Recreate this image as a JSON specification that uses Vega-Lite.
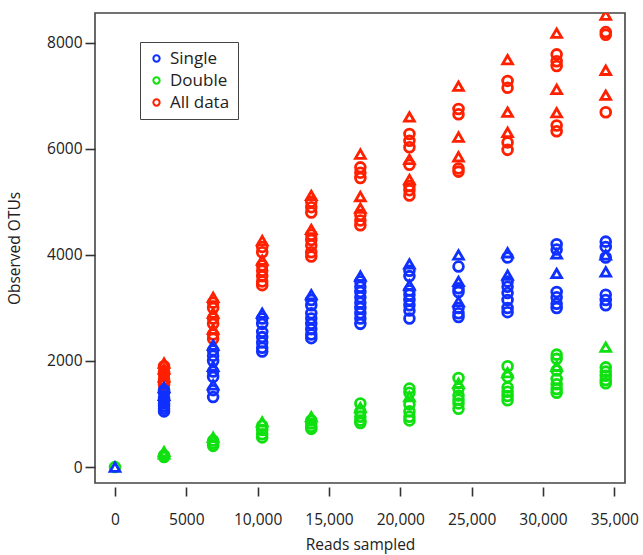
{
  "$schema": "https://vega.github.io/schema/vega-lite/v6.json",
  "autosize": "none",
  "width": 530,
  "height": 470,
  "padding": {"left": 95, "top": 13, "right": 18, "bottom": 72},
  "background": "white",
  "config": {
    "font": "Open Sans",
    "view": {"stroke": "#444", "strokeWidth": 1.6},
    "axis": {"grid": false, "domain": false, "tickColor": "#333", "tickWidth": 1.6, "labelColor": "#222", "titleColor": "#222", "labelFontSize": 15.5, "titleFontSize": 15.5, "titleFontWeight": "normal", "labelFont": "Open Sans", "titleFont": "Open Sans"}
  },
  "data": {"values": [
    {"reads": 3440, "otus": 1960, "series": "All data", "set": "B"},
    {"reads": 3440, "otus": 1900, "series": "All data", "set": "A"},
    {"reads": 3440, "otus": 1850, "series": "All data", "set": "B"},
    {"reads": 3440, "otus": 1800, "series": "All data", "set": "A"},
    {"reads": 3440, "otus": 1750, "series": "All data", "set": "A"},
    {"reads": 3440, "otus": 1700, "series": "All data", "set": "B"},
    {"reads": 3440, "otus": 1650, "series": "All data", "set": "A"},
    {"reads": 3440, "otus": 1600, "series": "All data", "set": "A"},
    {"reads": 3440, "otus": 1550, "series": "All data", "set": "A"},
    {"reads": 6880, "otus": 3200, "series": "All data", "set": "B"},
    {"reads": 6880, "otus": 3100, "series": "All data", "set": "A"},
    {"reads": 6880, "otus": 3000, "series": "All data", "set": "A"},
    {"reads": 6880, "otus": 2900, "series": "All data", "set": "B"},
    {"reads": 6880, "otus": 2800, "series": "All data", "set": "A"},
    {"reads": 6880, "otus": 2700, "series": "All data", "set": "A"},
    {"reads": 6880, "otus": 2600, "series": "All data", "set": "B"},
    {"reads": 6880, "otus": 2500, "series": "All data", "set": "A"},
    {"reads": 6880, "otus": 2420, "series": "All data", "set": "A"},
    {"reads": 10320, "otus": 4270, "series": "All data", "set": "B"},
    {"reads": 10320, "otus": 4150, "series": "All data", "set": "A"},
    {"reads": 10320, "otus": 4050, "series": "All data", "set": "A"},
    {"reads": 10320, "otus": 3900, "series": "All data", "set": "B"},
    {"reads": 10320, "otus": 3800, "series": "All data", "set": "A"},
    {"reads": 10320, "otus": 3700, "series": "All data", "set": "A"},
    {"reads": 10320, "otus": 3600, "series": "All data", "set": "A"},
    {"reads": 10320, "otus": 3500, "series": "All data", "set": "A"},
    {"reads": 10320, "otus": 3430, "series": "All data", "set": "A"},
    {"reads": 13760, "otus": 5120, "series": "All data", "set": "B"},
    {"reads": 13760, "otus": 5000, "series": "All data", "set": "A"},
    {"reads": 13760, "otus": 4900, "series": "All data", "set": "A"},
    {"reads": 13760, "otus": 4800, "series": "All data", "set": "A"},
    {"reads": 13760, "otus": 4480, "series": "All data", "set": "B"},
    {"reads": 13760, "otus": 4380, "series": "All data", "set": "A"},
    {"reads": 13760, "otus": 4280, "series": "All data", "set": "A"},
    {"reads": 13760, "otus": 4180, "series": "All data", "set": "A"},
    {"reads": 13760, "otus": 4050, "series": "All data", "set": "A"},
    {"reads": 13760, "otus": 3970, "series": "All data", "set": "A"},
    {"reads": 17200, "otus": 5900, "series": "All data", "set": "B"},
    {"reads": 17200, "otus": 5650, "series": "All data", "set": "A"},
    {"reads": 17200, "otus": 5550, "series": "All data", "set": "A"},
    {"reads": 17200, "otus": 5450, "series": "All data", "set": "A"},
    {"reads": 17200, "otus": 5100, "series": "All data", "set": "B"},
    {"reads": 17200, "otus": 4880, "series": "All data", "set": "B"},
    {"reads": 17200, "otus": 4750, "series": "All data", "set": "A"},
    {"reads": 17200, "otus": 4650, "series": "All data", "set": "A"},
    {"reads": 17200, "otus": 4560, "series": "All data", "set": "A"},
    {"reads": 20640, "otus": 6600, "series": "All data", "set": "B"},
    {"reads": 20640, "otus": 6280, "series": "All data", "set": "A"},
    {"reads": 20640, "otus": 6150, "series": "All data", "set": "A"},
    {"reads": 20640, "otus": 6030, "series": "All data", "set": "A"},
    {"reads": 20640, "otus": 5800, "series": "All data", "set": "B"},
    {"reads": 20640, "otus": 5700, "series": "All data", "set": "A"},
    {"reads": 20640, "otus": 5420, "series": "All data", "set": "B"},
    {"reads": 20640, "otus": 5300, "series": "All data", "set": "A"},
    {"reads": 20640, "otus": 5220, "series": "All data", "set": "A"},
    {"reads": 20640, "otus": 5120, "series": "All data", "set": "A"},
    {"reads": 24080, "otus": 7180, "series": "All data", "set": "B"},
    {"reads": 24080, "otus": 6750, "series": "All data", "set": "A"},
    {"reads": 24080, "otus": 6650, "series": "All data", "set": "A"},
    {"reads": 24080, "otus": 6220, "series": "All data", "set": "B"},
    {"reads": 24080, "otus": 5850, "series": "All data", "set": "B"},
    {"reads": 24080, "otus": 5630, "series": "All data", "set": "A"},
    {"reads": 24080, "otus": 5570, "series": "All data", "set": "A"},
    {"reads": 27520, "otus": 7680, "series": "All data", "set": "B"},
    {"reads": 27520, "otus": 7280, "series": "All data", "set": "A"},
    {"reads": 27520, "otus": 7150, "series": "All data", "set": "A"},
    {"reads": 27520, "otus": 6690, "series": "All data", "set": "B"},
    {"reads": 27520, "otus": 6310, "series": "All data", "set": "B"},
    {"reads": 27520, "otus": 6120, "series": "All data", "set": "A"},
    {"reads": 27520, "otus": 5980, "series": "All data", "set": "A"},
    {"reads": 30960, "otus": 8180, "series": "All data", "set": "B"},
    {"reads": 30960, "otus": 7780, "series": "All data", "set": "A"},
    {"reads": 30960, "otus": 7650, "series": "All data", "set": "A"},
    {"reads": 30960, "otus": 7560, "series": "All data", "set": "A"},
    {"reads": 30960, "otus": 7120, "series": "All data", "set": "B"},
    {"reads": 30960, "otus": 6680, "series": "All data", "set": "B"},
    {"reads": 30960, "otus": 6440, "series": "All data", "set": "A"},
    {"reads": 30960, "otus": 6330, "series": "All data", "set": "A"},
    {"reads": 34400, "otus": 8520, "series": "All data", "set": "B"},
    {"reads": 34400, "otus": 8200, "series": "All data", "set": "A"},
    {"reads": 34400, "otus": 8150, "series": "All data", "set": "A"},
    {"reads": 34400, "otus": 7480, "series": "All data", "set": "B"},
    {"reads": 34400, "otus": 7010, "series": "All data", "set": "B"},
    {"reads": 34400, "otus": 6690, "series": "All data", "set": "A"},
    {"reads": 0, "otus": 0, "series": "Double", "set": "A"},
    {"reads": 3440, "otus": 290, "series": "Double", "set": "B"},
    {"reads": 3440, "otus": 250, "series": "Double", "set": "B"},
    {"reads": 3440, "otus": 220, "series": "Double", "set": "A"},
    {"reads": 3440, "otus": 190, "series": "Double", "set": "A"},
    {"reads": 6880, "otus": 560, "series": "Double", "set": "B"},
    {"reads": 6880, "otus": 500, "series": "Double", "set": "A"},
    {"reads": 6880, "otus": 450, "series": "Double", "set": "A"},
    {"reads": 6880, "otus": 400, "series": "Double", "set": "A"},
    {"reads": 10320, "otus": 850, "series": "Double", "set": "B"},
    {"reads": 10320, "otus": 780, "series": "Double", "set": "A"},
    {"reads": 10320, "otus": 700, "series": "Double", "set": "A"},
    {"reads": 10320, "otus": 620, "series": "Double", "set": "A"},
    {"reads": 10320, "otus": 560, "series": "Double", "set": "A"},
    {"reads": 13760, "otus": 950, "series": "Double", "set": "B"},
    {"reads": 13760, "otus": 880, "series": "Double", "set": "A"},
    {"reads": 13760, "otus": 820, "series": "Double", "set": "A"},
    {"reads": 13760, "otus": 760, "series": "Double", "set": "A"},
    {"reads": 13760, "otus": 720, "series": "Double", "set": "A"},
    {"reads": 17200, "otus": 1200, "series": "Double", "set": "A"},
    {"reads": 17200, "otus": 1120, "series": "Double", "set": "B"},
    {"reads": 17200, "otus": 1050, "series": "Double", "set": "A"},
    {"reads": 17200, "otus": 950, "series": "Double", "set": "A"},
    {"reads": 17200, "otus": 880, "series": "Double", "set": "A"},
    {"reads": 17200, "otus": 830, "series": "Double", "set": "A"},
    {"reads": 20640, "otus": 1480, "series": "Double", "set": "A"},
    {"reads": 20640, "otus": 1400, "series": "Double", "set": "A"},
    {"reads": 20640, "otus": 1330, "series": "Double", "set": "B"},
    {"reads": 20640, "otus": 1180, "series": "Double", "set": "A"},
    {"reads": 20640, "otus": 1050, "series": "Double", "set": "A"},
    {"reads": 20640, "otus": 950, "series": "Double", "set": "A"},
    {"reads": 20640, "otus": 880, "series": "Double", "set": "A"},
    {"reads": 24080, "otus": 1680, "series": "Double", "set": "A"},
    {"reads": 24080, "otus": 1580, "series": "Double", "set": "B"},
    {"reads": 24080, "otus": 1480, "series": "Double", "set": "A"},
    {"reads": 24080, "otus": 1350, "series": "Double", "set": "A"},
    {"reads": 24080, "otus": 1270, "series": "Double", "set": "A"},
    {"reads": 24080, "otus": 1200, "series": "Double", "set": "A"},
    {"reads": 24080, "otus": 1100, "series": "Double", "set": "A"},
    {"reads": 27520, "otus": 1900, "series": "Double", "set": "A"},
    {"reads": 27520, "otus": 1780, "series": "Double", "set": "B"},
    {"reads": 27520, "otus": 1700, "series": "Double", "set": "A"},
    {"reads": 27520, "otus": 1500, "series": "Double", "set": "A"},
    {"reads": 27520, "otus": 1420, "series": "Double", "set": "A"},
    {"reads": 27520, "otus": 1340, "series": "Double", "set": "A"},
    {"reads": 27520, "otus": 1260, "series": "Double", "set": "A"},
    {"reads": 30960, "otus": 2120, "series": "Double", "set": "A"},
    {"reads": 30960, "otus": 2040, "series": "Double", "set": "A"},
    {"reads": 30960, "otus": 1900, "series": "Double", "set": "B"},
    {"reads": 30960, "otus": 1820, "series": "Double", "set": "A"},
    {"reads": 30960, "otus": 1660, "series": "Double", "set": "A"},
    {"reads": 30960, "otus": 1560, "series": "Double", "set": "A"},
    {"reads": 30960, "otus": 1470, "series": "Double", "set": "A"},
    {"reads": 30960, "otus": 1400, "series": "Double", "set": "A"},
    {"reads": 34400, "otus": 2260, "series": "Double", "set": "B"},
    {"reads": 34400, "otus": 1880, "series": "Double", "set": "A"},
    {"reads": 34400, "otus": 1800, "series": "Double", "set": "A"},
    {"reads": 34400, "otus": 1720, "series": "Double", "set": "A"},
    {"reads": 34400, "otus": 1640, "series": "Double", "set": "A"},
    {"reads": 34400, "otus": 1580, "series": "Double", "set": "A"},
    {"reads": 0, "otus": 0, "series": "Single", "set": "B"},
    {"reads": 3440, "otus": 1500, "series": "Single", "set": "B"},
    {"reads": 3440, "otus": 1450, "series": "Single", "set": "A"},
    {"reads": 3440, "otus": 1400, "series": "Single", "set": "A"},
    {"reads": 3440, "otus": 1350, "series": "Single", "set": "B"},
    {"reads": 3440, "otus": 1300, "series": "Single", "set": "A"},
    {"reads": 3440, "otus": 1250, "series": "Single", "set": "A"},
    {"reads": 3440, "otus": 1200, "series": "Single", "set": "A"},
    {"reads": 3440, "otus": 1150, "series": "Single", "set": "A"},
    {"reads": 3440, "otus": 1100, "series": "Single", "set": "A"},
    {"reads": 3440, "otus": 1050, "series": "Single", "set": "A"},
    {"reads": 6880, "otus": 2300, "series": "Single", "set": "B"},
    {"reads": 6880, "otus": 2200, "series": "Single", "set": "A"},
    {"reads": 6880, "otus": 2100, "series": "Single", "set": "A"},
    {"reads": 6880, "otus": 2000, "series": "Single", "set": "A"},
    {"reads": 6880, "otus": 1900, "series": "Single", "set": "B"},
    {"reads": 6880, "otus": 1800, "series": "Single", "set": "A"},
    {"reads": 6880, "otus": 1700, "series": "Single", "set": "A"},
    {"reads": 6880, "otus": 1550, "series": "Single", "set": "B"},
    {"reads": 6880, "otus": 1450, "series": "Single", "set": "A"},
    {"reads": 6880, "otus": 1320, "series": "Single", "set": "A"},
    {"reads": 10320, "otus": 2900, "series": "Single", "set": "B"},
    {"reads": 10320, "otus": 2800, "series": "Single", "set": "A"},
    {"reads": 10320, "otus": 2700, "series": "Single", "set": "A"},
    {"reads": 10320, "otus": 2550, "series": "Single", "set": "A"},
    {"reads": 10320, "otus": 2450, "series": "Single", "set": "A"},
    {"reads": 10320, "otus": 2350, "series": "Single", "set": "A"},
    {"reads": 10320, "otus": 2250, "series": "Single", "set": "A"},
    {"reads": 10320, "otus": 2180, "series": "Single", "set": "A"},
    {"reads": 13760, "otus": 3250, "series": "Single", "set": "B"},
    {"reads": 13760, "otus": 3150, "series": "Single", "set": "A"},
    {"reads": 13760, "otus": 3050, "series": "Single", "set": "A"},
    {"reads": 13760, "otus": 2900, "series": "Single", "set": "A"},
    {"reads": 13760, "otus": 2800, "series": "Single", "set": "A"},
    {"reads": 13760, "otus": 2700, "series": "Single", "set": "A"},
    {"reads": 13760, "otus": 2600, "series": "Single", "set": "A"},
    {"reads": 13760, "otus": 2500, "series": "Single", "set": "A"},
    {"reads": 13760, "otus": 2430, "series": "Single", "set": "A"},
    {"reads": 17200, "otus": 3600, "series": "Single", "set": "B"},
    {"reads": 17200, "otus": 3500, "series": "Single", "set": "A"},
    {"reads": 17200, "otus": 3400, "series": "Single", "set": "A"},
    {"reads": 17200, "otus": 3300, "series": "Single", "set": "A"},
    {"reads": 17200, "otus": 3200, "series": "Single", "set": "A"},
    {"reads": 17200, "otus": 3100, "series": "Single", "set": "A"},
    {"reads": 17200, "otus": 3000, "series": "Single", "set": "A"},
    {"reads": 17200, "otus": 2900, "series": "Single", "set": "A"},
    {"reads": 17200, "otus": 2800, "series": "Single", "set": "A"},
    {"reads": 17200, "otus": 2700, "series": "Single", "set": "A"},
    {"reads": 20640, "otus": 3830, "series": "Single", "set": "B"},
    {"reads": 20640, "otus": 3700, "series": "Single", "set": "A"},
    {"reads": 20640, "otus": 3600, "series": "Single", "set": "A"},
    {"reads": 20640, "otus": 3430, "series": "Single", "set": "B"},
    {"reads": 20640, "otus": 3330, "series": "Single", "set": "A"},
    {"reads": 20640, "otus": 3250, "series": "Single", "set": "A"},
    {"reads": 20640, "otus": 3150, "series": "Single", "set": "A"},
    {"reads": 20640, "otus": 3050, "series": "Single", "set": "A"},
    {"reads": 20640, "otus": 2950, "series": "Single", "set": "A"},
    {"reads": 20640, "otus": 2800, "series": "Single", "set": "A"},
    {"reads": 24080, "otus": 4000, "series": "Single", "set": "B"},
    {"reads": 24080, "otus": 3780, "series": "Single", "set": "A"},
    {"reads": 24080, "otus": 3500, "series": "Single", "set": "B"},
    {"reads": 24080, "otus": 3370, "series": "Single", "set": "A"},
    {"reads": 24080, "otus": 3300, "series": "Single", "set": "A"},
    {"reads": 24080, "otus": 3120, "series": "Single", "set": "B"},
    {"reads": 24080, "otus": 3000, "series": "Single", "set": "A"},
    {"reads": 24080, "otus": 2900, "series": "Single", "set": "A"},
    {"reads": 24080, "otus": 2830, "series": "Single", "set": "A"},
    {"reads": 27520, "otus": 4040, "series": "Single", "set": "B"},
    {"reads": 27520, "otus": 3950, "series": "Single", "set": "A"},
    {"reads": 27520, "otus": 3620, "series": "Single", "set": "B"},
    {"reads": 27520, "otus": 3500, "series": "Single", "set": "A"},
    {"reads": 27520, "otus": 3400, "series": "Single", "set": "A"},
    {"reads": 27520, "otus": 3280, "series": "Single", "set": "A"},
    {"reads": 27520, "otus": 3150, "series": "Single", "set": "A"},
    {"reads": 27520, "otus": 3000, "series": "Single", "set": "A"},
    {"reads": 27520, "otus": 2920, "series": "Single", "set": "A"},
    {"reads": 30960, "otus": 4200, "series": "Single", "set": "A"},
    {"reads": 30960, "otus": 4100, "series": "Single", "set": "A"},
    {"reads": 30960, "otus": 4020, "series": "Single", "set": "B"},
    {"reads": 30960, "otus": 3650, "series": "Single", "set": "B"},
    {"reads": 30960, "otus": 3300, "series": "Single", "set": "A"},
    {"reads": 30960, "otus": 3200, "series": "Single", "set": "A"},
    {"reads": 30960, "otus": 3080, "series": "Single", "set": "A"},
    {"reads": 30960, "otus": 3000, "series": "Single", "set": "A"},
    {"reads": 34400, "otus": 4250, "series": "Single", "set": "A"},
    {"reads": 34400, "otus": 4150, "series": "Single", "set": "A"},
    {"reads": 34400, "otus": 4000, "series": "Single", "set": "B"},
    {"reads": 34400, "otus": 3950, "series": "Single", "set": "A"},
    {"reads": 34400, "otus": 3680, "series": "Single", "set": "B"},
    {"reads": 34400, "otus": 3250, "series": "Single", "set": "A"},
    {"reads": 34400, "otus": 3150, "series": "Single", "set": "A"},
    {"reads": 34400, "otus": 3050, "series": "Single", "set": "A"}
  ]},
  "mark": {"type": "point", "filled": false, "size": 95, "strokeWidth": 2.8, "opacity": 1, "clip": true},
  "encoding": {
    "x": {"field": "reads", "type": "quantitative",
      "scale": {"domain": [-1400, 35750], "nice": false, "zero": false},
      "axis": {"values": [0, 5000, 10000, 15000, 20000, 25000, 30000, 35000], "labelExpr": "datum.value == 5000 ? '5000' : format(datum.value, ',')", "offset": 4, "tickSize": 9, "labelPadding": 16, "title": "Reads sampled", "titlePadding": 10, "labelFlush": false}},
    "y": {"field": "otus", "type": "quantitative",
      "scale": {"domain": [-300, 8560], "nice": false, "zero": false},
      "axis": {"values": [0, 2000, 4000, 6000, 8000], "format": "d", "tickSize": 10, "labelPadding": 3, "title": "Observed OTUs", "titlePadding": 24}},
    "color": {"field": "series", "type": "nominal",
      "scale": {"domain": ["Single", "Double", "All data"], "range": ["#1030ff", "#10e010", "#ff2000"]},
      "legend": {"orient": "none", "legendX": 45, "legendY": 29, "title": null, "padding": 8, "strokeColor": "#444", "fillColor": "white", "labelFontSize": 17, "labelFont": "Open Sans", "labelColor": "#222", "symbolType": "circle", "symbolSize": 40, "symbolStrokeWidth": 2, "rowPadding": 4, "labelOffset": 5}},
    "shape": {"field": "set", "type": "nominal",
      "scale": {"domain": ["A", "B"], "range": ["circle", "triangle-up"]},
      "legend": null}
  }
}
